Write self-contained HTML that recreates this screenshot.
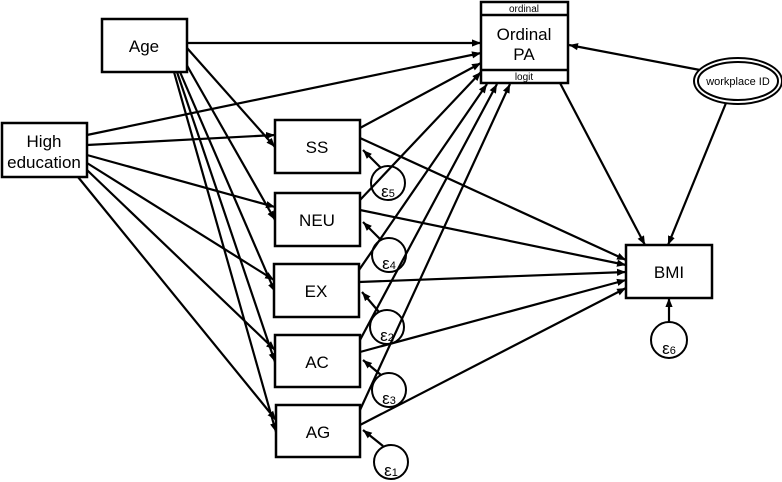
<!DOCTYPE html>
<html><head><meta charset="utf-8"><style>body{margin:0;background:#fff}svg{display:block}text{font-family:"Liberation Sans",sans-serif;fill:#000}</style></head><body>
<svg width="782" height="482" viewBox="0 0 782 482" xmlns="http://www.w3.org/2000/svg">
<defs><marker id="a" viewBox="0 0 10 10" refX="10" refY="5" markerWidth="9" markerHeight="9" markerUnits="userSpaceOnUse" orient="auto"><path d="M0,1 L10,5 L0,9 z" fill="#000"/></marker></defs>
<g stroke="#000" stroke-width="2.2" fill="none" marker-end="url(#a)">
<line x1="187" y1="43" x2="481" y2="43"/>
<line x1="87" y1="135" x2="481" y2="53"/>
<line x1="360" y1="128" x2="481" y2="63"/>
<line x1="360" y1="200" x2="481" y2="72"/>
<line x1="359" y1="270" x2="487" y2="84"/>
<line x1="360" y1="340" x2="497" y2="84"/>
<line x1="360" y1="410" x2="510" y2="84"/>
<line x1="187" y1="48" x2="275" y2="147"/>
<line x1="185" y1="62" x2="275" y2="220"/>
<line x1="180" y1="72" x2="275" y2="292"/>
<line x1="177" y1="72" x2="275" y2="362"/>
<line x1="174" y1="72" x2="276" y2="432"/>
<line x1="87" y1="145" x2="275" y2="135"/>
<line x1="87" y1="155" x2="275" y2="207"/>
<line x1="87" y1="163" x2="274" y2="280"/>
<line x1="87" y1="170" x2="275" y2="350"/>
<line x1="78" y1="177" x2="276" y2="420"/>
<line x1="360" y1="138" x2="626" y2="260"/>
<line x1="360" y1="210" x2="626" y2="265"/>
<line x1="359" y1="282" x2="626" y2="272"/>
<line x1="360" y1="352" x2="626" y2="280"/>
<line x1="360" y1="425" x2="626" y2="288"/>
<line x1="560" y1="83" x2="645" y2="245"/>
<line x1="726" y1="103" x2="668" y2="245"/>
<line x1="700" y1="70" x2="569" y2="45"/>
<line x1="381" y1="168" x2="363" y2="150"/>
<line x1="381" y1="240" x2="363" y2="222"/>
<line x1="379" y1="312" x2="362" y2="292"/>
<line x1="381" y1="375" x2="363" y2="360"/>
<line x1="383" y1="446" x2="363" y2="430"/>
<line x1="669" y1="322" x2="669" y2="298"/>
</g>
<g stroke="#000" stroke-width="2.5" fill="#fff">
<rect x="102" y="19" width="85" height="53"/>
<rect x="2" y="123" width="85" height="54"/>
<rect x="275" y="120" width="85" height="53"/>
<rect x="275" y="193" width="85" height="53"/>
<rect x="274" y="264" width="85" height="53"/>
<rect x="275" y="335" width="85" height="52"/>
<rect x="276" y="405" width="84" height="52"/>
<rect x="481" y="2" width="87" height="81"/>
<line x1="481" y1="15" x2="568" y2="15"/>
<line x1="481" y1="70" x2="568" y2="70"/>
<rect x="626" y="245" width="86" height="53"/>
</g>
<g stroke="#000" stroke-width="2" fill="none">
<circle cx="388" cy="183" r="17"/>
<circle cx="389" cy="255" r="17"/>
<circle cx="387" cy="327" r="17"/>
<circle cx="389" cy="390" r="17"/>
<circle cx="391" cy="462" r="17"/>
<circle cx="669" cy="340" r="18"/>
<ellipse cx="738" cy="81" rx="44" ry="23" fill="#fff"/>
<ellipse cx="738" cy="81" rx="40" ry="19"/>
</g>
<g font-size="17" text-anchor="middle">
<text x="144" y="52">Age</text>
<text x="44" y="147">High</text>
<text x="44" y="168">education</text>
<text x="317" y="153">SS</text>
<text x="317" y="226">NEU</text>
<text x="316" y="297">EX</text>
<text x="317" y="368">AC</text>
<text x="318" y="438">AG</text>
<text x="524" y="40">Ordinal</text>
<text x="524" y="60">PA</text>
<text x="669" y="278">BMI</text>
<text x="524" y="12" font-size="10">ordinal</text>
<text x="524" y="80" font-size="10">logit</text>
<text x="738" y="85" font-size="11">workplace ID</text>
<g font-size="17"><text x="388" y="197">ε<tspan font-size="11">5</tspan></text>
<text x="389" y="269">ε<tspan font-size="11">4</tspan></text>
<text x="387" y="341">ε<tspan font-size="11">2</tspan></text>
<text x="389" y="404">ε<tspan font-size="11">3</tspan></text>
<text x="391" y="476">ε<tspan font-size="11">1</tspan></text>
<text x="669" y="354">ε<tspan font-size="11">6</tspan></text></g>
</g>
</svg>
</body></html>
